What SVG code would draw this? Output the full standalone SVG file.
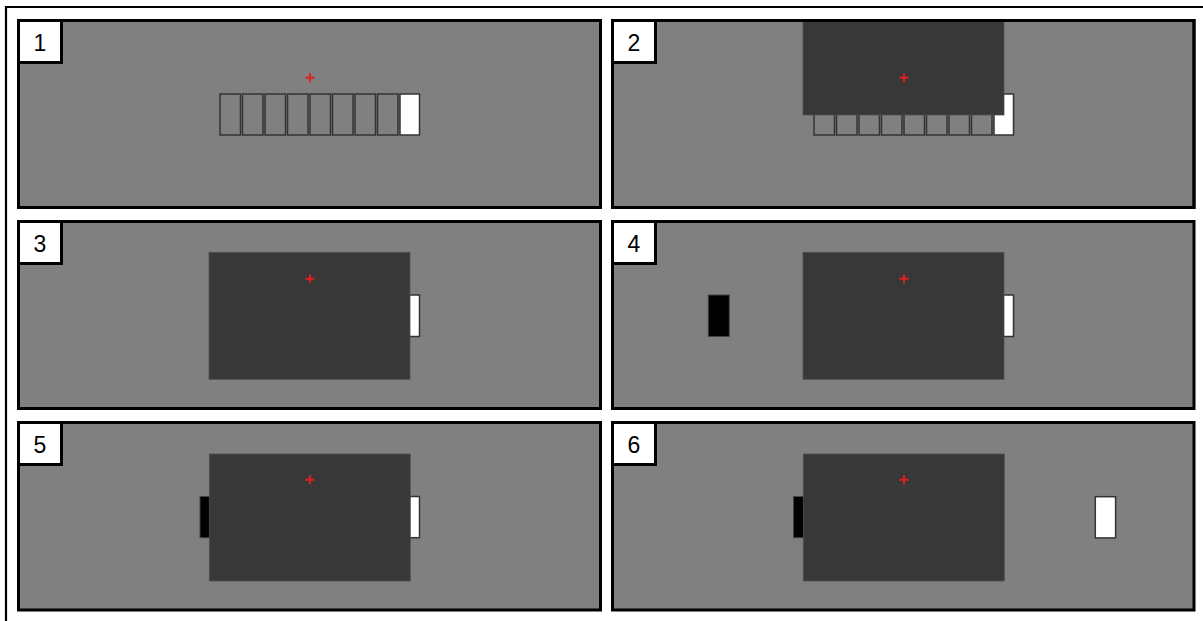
<svg xmlns="http://www.w3.org/2000/svg" width="1203" height="621" viewBox="0 0 1203 621">
<style>
.panel{fill:#808080;stroke:#000;stroke-width:3}
.outline{fill:none;stroke:#000;stroke-width:3}
.frame{fill:none;stroke:#000;stroke-width:2.2}
.num{fill:#fff;stroke:#000;stroke-width:3}
.numt{font-family:"Liberation Sans",Arial,sans-serif;font-size:23px;fill:#000;text-anchor:middle}
.box{fill:none;stroke:#333;stroke-width:1.5}
.wbox{fill:#fff;stroke:#333;stroke-width:1.5}
.bbox{fill:#000;stroke:#444;stroke-width:1}
.dark{fill:#383838;stroke:#505050;stroke-width:0.8}
.cross{stroke:#e02020;stroke-width:2;fill:none}
</style>
<defs>
<g id="cross"><path class="cross" d="M305.5 77.7h9M310 73.2v9"/></g>
<g id="boxes">
<rect class="box" x="220" y="94" width="20.5" height="41"/>
<rect class="box" x="242.5" y="94" width="20.5" height="41"/>
<rect class="box" x="265" y="94" width="20.5" height="41"/>
<rect class="box" x="287.5" y="94" width="20.5" height="41"/>
<rect class="box" x="310" y="94" width="20.5" height="41"/>
<rect class="box" x="332.5" y="94" width="20.5" height="41"/>
<rect class="box" x="355" y="94" width="20.5" height="41"/>
<rect class="box" x="377.5" y="94" width="20.5" height="41"/>
<rect class="wbox" x="400" y="94" width="19.5" height="41"/>
</g>
</defs>
<rect width="1203" height="621" fill="#fff"/>
<path class="frame" d="M6 621V7H1203"/>

<g id="panel1">
<rect class="panel" x="18.5" y="20.5" width="582" height="187"/>
<use href="#boxes"/>
<use href="#cross"/>
<rect class="num" x="18.5" y="20.5" width="43" height="42"/>
<text class="numt" x="40" y="51">1</text>
</g>

<g id="panel2">
<rect class="panel" x="612.5" y="20.5" width="581.5" height="187"/>
<use href="#boxes" x="594"/>
<rect class="dark" x="803" y="21" width="201" height="94"/>
<use href="#cross" x="594"/>
<rect class="outline" x="612.5" y="20.5" width="581.5" height="187"/>
<rect class="num" x="612.5" y="20.5" width="43" height="42"/>
<text class="numt" x="634" y="51">2</text>
</g>

<g id="panel3">
<rect class="panel" x="18.5" y="221.5" width="582" height="187"/>
<rect class="wbox" x="400" y="295" width="19.5" height="41.5"/>
<rect class="dark" x="209" y="252.3" width="201" height="127"/>
<use href="#cross" y="201"/>
<rect class="num" x="18.5" y="221.5" width="43" height="42"/>
<text class="numt" x="40" y="252">3</text>
</g>

<g id="panel4">
<rect class="panel" x="612.5" y="221.5" width="581.5" height="187"/>
<rect class="bbox" x="708.3" y="295" width="21" height="41.5"/>
<rect class="wbox" x="994" y="295" width="19.5" height="41.5"/>
<rect class="dark" x="803" y="252.3" width="201" height="127"/>
<use href="#cross" x="594" y="201"/>
<rect class="num" x="612.5" y="221.5" width="43" height="42"/>
<text class="numt" x="634" y="252">4</text>
</g>

<g id="panel5">
<rect class="panel" x="18.5" y="422.5" width="582" height="187.5"/>
<rect class="bbox" x="200" y="496.5" width="20" height="41.2"/>
<rect class="wbox" x="400" y="496.5" width="19.5" height="41.2"/>
<rect class="dark" x="209.3" y="454" width="201" height="127"/>
<use href="#cross" y="402"/>
<rect class="num" x="18.5" y="422.5" width="43" height="42"/>
<text class="numt" x="40" y="453">5</text>
</g>

<g id="panel6">
<rect class="panel" x="612.5" y="422.5" width="581.5" height="187.5"/>
<rect class="bbox" x="793.5" y="496.5" width="20" height="41.2"/>
<rect class="dark" x="803.3" y="454" width="201" height="127"/>
<rect class="wbox" x="1095.3" y="496.7" width="20.3" height="41.2"/>
<use href="#cross" x="594" y="402"/>
<rect class="num" x="612.5" y="422.5" width="43" height="42"/>
<text class="numt" x="634" y="453">6</text>
</g>
</svg>
